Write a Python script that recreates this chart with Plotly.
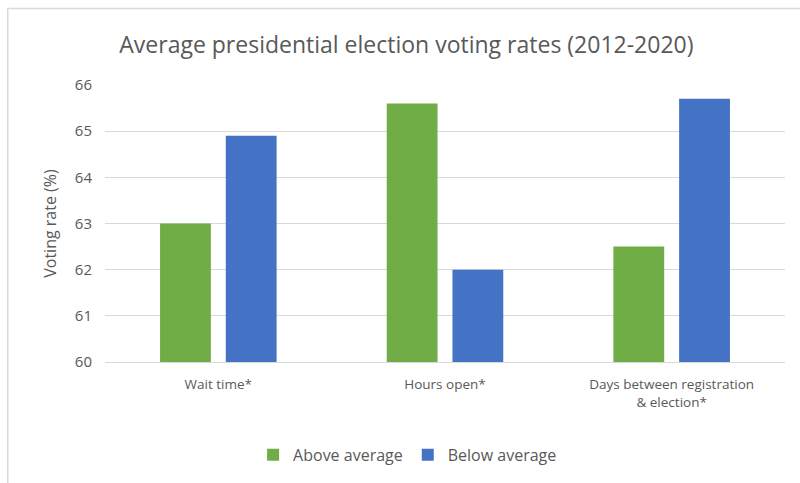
import plotly.graph_objects as go

categories = ["Wait time*", "Hours open*", "Days between registration<br>& election*"]
above_average = [63.0, 65.6, 62.5]
below_average = [64.9, 62.0, 65.7]
y_ticks = [60, 61, 62, 63, 64, 65, 66]

FONT = "Open Sans"
GRAY = "#595959"

fig = go.Figure()
fig.add_trace(go.Bar(name="Above average", x=categories, y=above_average,
                     marker=dict(color="#70AD47", line=dict(width=0))))
fig.add_trace(go.Bar(name="Below average", x=categories, y=below_average,
                     marker=dict(color="#4472C4", line=dict(width=0))))

fig.update_layout(
    width=800, height=483,
    margin=dict(l=105, r=15, t=85, b=120),
    paper_bgcolor="white", plot_bgcolor="white",
    barmode="group", bargap=0.42, bargroupgap=0.227,
    title=dict(text="Average presidential election voting rates (2012-2020)",
               x=0.508, xanchor="center", y=0.907, yanchor="middle",
               font=dict(family=FONT, size=23, color=GRAY)),
    font=dict(family=FONT, size=14, color=GRAY),
    legend=dict(orientation="h", x=0.445, xanchor="center", y=-0.33, yanchor="middle",
                font=dict(family=FONT, size=16, color=GRAY),
                itemwidth=30, traceorder="normal"),
    xaxis=dict(showline=True, linecolor="#D9D9D9", linewidth=1,
               ticks="outside", ticklen=10, tickcolor="rgba(0,0,0,0)",
               tickfont=dict(family=FONT, size=13.5, color=GRAY)),
    yaxis=dict(range=[60, 66], tickvals=y_ticks, showgrid=True, gridcolor="#D9D9D9",
               zeroline=False, ticks="outside", ticklen=9, tickcolor="rgba(0,0,0,0)",
               tickfont=dict(family=FONT, size=15, color=GRAY),
               title=dict(text="Voting rate (%)", standoff=14,
                          font=dict(family=FONT, size=16, color=GRAY))),
    shapes=[dict(type="rect", xref="paper", yref="paper",
                 x0=-0.143, x1=1.05, y0=-0.5, y1=1.276,
                 line=dict(color="#D9D9D9", width=1.5), fillcolor="rgba(0,0,0,0)",
                 layer="below")],
)

fig.write_html("out.html")
